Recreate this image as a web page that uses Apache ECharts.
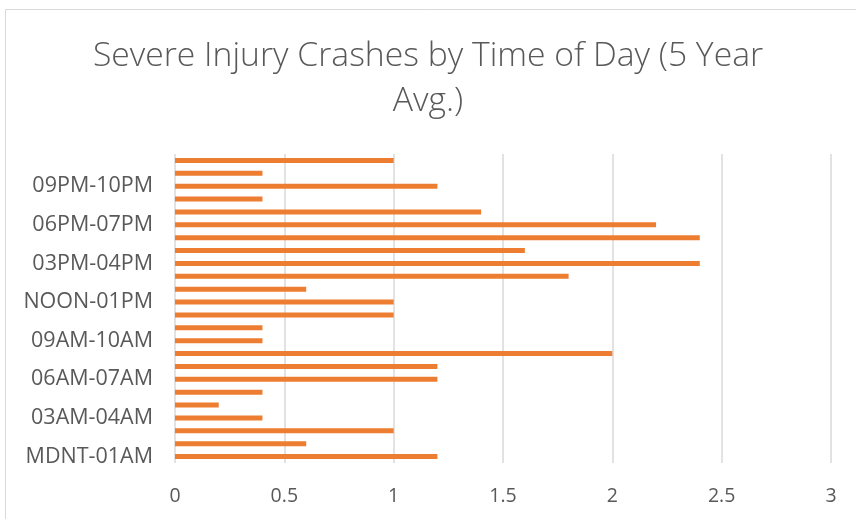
<!DOCTYPE html>
<html><head><meta charset="utf-8">
<script src="https://cdn.jsdelivr.net/npm/echarts@6/dist/echarts.min.js"></script>
<style>html,body{margin:0;padding:0;background:#fff}#c{width:856px;height:519px}</style>
</head><body><div id="c"></div>
<script>
const categories = ["MDNT-01AM","01AM-02AM","02AM-03AM","03AM-04AM","04AM-05AM","05AM-06AM","06AM-07AM","07AM-08AM","08AM-09AM","09AM-10AM","10AM-11AM","11AM-NOON","NOON-01PM","01PM-02PM","02PM-03PM","03PM-04PM","04PM-05PM","05PM-06PM","06PM-07PM","07PM-08PM","08PM-09PM","09PM-10PM","10PM-11PM","11PM-MDNT"];
const values = [1.2,0.6,1.0,0.4,0.2,0.4,1.2,1.2,2.0,0.4,0.4,1.0,1.0,0.6,1.8,2.4,1.6,2.4,2.2,1.4,0.4,1.2,0.4,1.0];
const xTicks = [0,0.5,1,1.5,2,2.5,3];
const titleText = "Severe Injury Crashes by Time of Day (5 Year\nAvg.)";

const chart = echarts.init(document.getElementById('c'), null, {renderer:'canvas'});
chart.setOption({
  animation:false,
  graphic:[{type:'rect',shape:{x:5.5,y:9.5,width:860,height:520},style:{fill:'none',stroke:'#d9d9d9',lineWidth:1}}],
  title:{text:titleText,left:'center',top:29,textStyle:{fontFamily:'Open Sans',fontWeight:300,fontSize:33.7,color:'#595959',lineHeight:45}},
  grid:{left:175,right:25,top:154,bottom:56,containLabel:false},
  xAxis:{type:'value',min:xTicks[0],max:xTicks[xTicks.length-1],interval:0.5,
    axisLine:{show:false},axisTick:{show:false},
    axisLabel:{fontFamily:'Open Sans',fontSize:19.5,color:'#595959',margin:23},
    splitLine:{show:true,lineStyle:{color:'#d9d9d9',width:1.5}}},
  yAxis:{type:'category',data:categories,
    axisLine:{show:false},axisTick:{show:false},
    axisLabel:{interval:2,fontFamily:'Open Sans',fontSize:21.5,color:'#595959',margin:22}},
  series:[{type:'bar',data:values,barWidth:5,itemStyle:{color:'#ED7D31'}}]
});
</script></body></html>
